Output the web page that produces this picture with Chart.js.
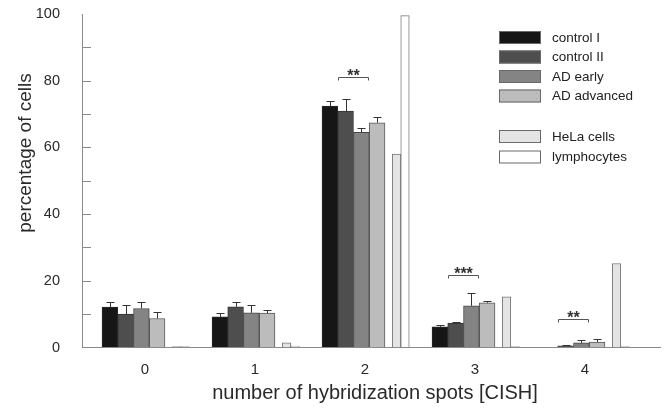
<!DOCTYPE html>
<html><head><meta charset="utf-8">
<script src="https://cdn.jsdelivr.net/npm/chart.js@4/dist/chart.umd.min.js"></script>
<style>html,body{margin:0;padding:0;background:#fff;}#wrap{width:665px;height:410px;}</style>
</head><body><div id="wrap"><canvas id="c" width="665" height="410"></canvas></div>
<script>
// ---- data ----
const categories = ['0', '1', '2', '3', '4'];
const controlI        = [12.1,  9.2, 72.4,  6.2, 0.0];
const controlIErr     = [ 1.4,  1.2,  1.5,  0.5, 0.0];
const controlII       = [10.0, 12.2, 70.9,  7.3, 0.5];
const controlIIErr    = [ 2.7,  1.5,  3.5,  0.4, 0.2];
const adEarly         = [11.7, 10.4, 64.5, 12.5, 1.4];
const adEarlyErr      = [ 1.9,  2.3,  1.4,  3.8, 0.7];
const adAdvanced      = [ 8.7, 10.3, 67.4, 13.4, 1.6];
const adAdvancedErr   = [ 2.0,  0.9,  1.6,  0.5, 0.8];
const helaCells       = [ 0.3,  1.4, 58.0, 15.2, 25.2];
const lymphocytes     = [ 0.3,  0.4, 99.5,  0.3, 0.3];
const seriesLabels = ['control I', 'control II', 'AD early', 'AD advanced', 'HeLa cells', 'lymphocytes'];
const yTickLabels = [0, 20, 40, 60, 80, 100];
const yTickMarks  = [10, 20, 30, 40, 50, 60, 70, 80, 90];
const sigCategories = [2, 3, 4];
const sigLabels     = ['**', '***', '**'];
const sigLevels     = [81, 21.6, 8.4];
const xTitle = 'number of hybridization spots [CISH]';
const yTitle = 'percentage of cells';

// ---- layout / style ----
const FONT = '"Liberation Sans", Arial, Helvetica, sans-serif';
const xMin = -0.5727, xMax = 4.6818;
const PLOT_W = 578;
const PPU = PLOT_W / (xMax - xMin);
const barOffsetPx = [-35.1, -19.4, -3.6, 12.1, 31.5, 40.0];
const barWidthPx  = [15.75, 15.75, 15.75, 15.75, 8.5, 8.5];
const fills   = ['#161616', '#4e4e4e', '#848484', '#bcbcbc', '#e4e4e4', '#ffffff'];
const borders = ['#2a2a2a', '#353535', '#474747', '#5a5a5a', '#7a7a7a', '#7a7a7a'];

const intTicks = s => { s.ticks = categories.map((c, i) => ({ value: i })); };
const pts = vals => categories.map((c, i) => ({ x: i, y: vals[i] }));
const seriesValues = [controlI, controlII, adEarly, adAdvanced, helaCells, lymphocytes];
const seriesErrors = [controlIErr, controlIIErr, adEarlyErr, adAdvancedErr, null, null];

const datasets = seriesLabels.map((label, k) => ({
  label, data: pts(seriesValues[k]), errors: seriesErrors[k],
  backgroundColor: fills[k], borderColor: borders[k], borderWidth: 1,
  xAxisID: 'b' + k, yAxisID: 'y', grouped: false, barThickness: barWidthPx[k]
}));

const scales = {
  x: {
    type: 'linear', position: 'bottom', min: xMin, max: xMax, offset: false,
    afterBuildTicks: intTicks,
    afterFit: s => { s.height = 62.5; },
    grid: { display: false },
    border: { display: true, color: '#8a8a8a', width: 1 },
    ticks: { callback: v => categories[v], font: { family: FONT, size: 15 }, color: '#2a2a2a', padding: 5, maxRotation: 0 }
  },
  y: {
    type: 'linear', min: 0, max: 100,
    afterBuildTicks: s => { s.ticks = yTickLabels.map(v => ({ value: v })); },
    afterFit: s => { s.width = 82; },
    grid: { display: true, drawOnChartArea: false, drawTicks: true, tickLength: 22, color: 'rgba(0,0,0,0)' },
    border: { display: true, color: '#8a8a8a', width: 1 },
    ticks: { font: { family: FONT, size: 14.5 }, color: '#2a2a2a', padding: 0 }
  }
};
barOffsetPx.forEach((off, k) => {
  scales['b' + k] = { type: 'linear', axis: 'x', position: 'bottom', display: false, offset: false,
    min: xMin - off / PPU, max: xMax - off / PPU, afterBuildTicks: intTicks };
});

const decor = {
  id: 'decor',
  afterDatasetsDraw(chart) {
    const ctx = chart.ctx, ys = chart.scales.y;
    ctx.save();
    // error bars
    ctx.strokeStyle = '#333'; ctx.lineWidth = 1;
    chart.data.datasets.forEach((d, di) => {
      if (!d.errors) return;
      chart.getDatasetMeta(di).data.forEach((bar, i) => {
        const e = d.errors[i]; if (!e) return;
        const yt = Math.round(ys.getPixelForValue(d.data[i].y + e)) + 0.5;
        const x = Math.round(bar.x) + 0.5;
        ctx.beginPath();
        ctx.moveTo(x, bar.y); ctx.lineTo(x, yt);
        ctx.moveTo(x - 4, yt); ctx.lineTo(x + 4, yt);
        ctx.stroke();
      });
    });
    // inner tick marks on y axis
    const left = chart.chartArea.left;
    ctx.strokeStyle = '#8a8a8a';
    yTickMarks.forEach(v => {
      const y = Math.round(ys.getPixelForValue(v)) + 0.5;
      ctx.beginPath(); ctx.moveTo(left, y); ctx.lineTo(left + 9, y); ctx.stroke();
    });
    // significance brackets
    const m1 = chart.getDatasetMeta(1), m2 = chart.getDatasetMeta(2);
    ctx.strokeStyle = '#555'; ctx.fillStyle = '#333';
    sigCategories.forEach((c, k) => {
      const b1 = m1.data[c], b2 = m2.data[c];
      const x1 = Math.round(b1.x - b1.width / 2) + 0.5, x2 = Math.round(b2.x + b2.width / 2) - 0.5;
      const y = Math.round(ys.getPixelForValue(sigLevels[k])) + 0.5;
      ctx.beginPath();
      ctx.moveTo(x1, y + 3); ctx.lineTo(x1, y); ctx.lineTo(x2, y); ctx.lineTo(x2, y + 3);
      ctx.stroke();
      ctx.font = 'bold 16px ' + FONT; ctx.textAlign = 'center'; ctx.textBaseline = 'middle';
      ctx.fillText(sigLabels[k], (x1 + x2) / 2, y - 1);
    });
    // legend
    const rows = [31, 50.5, 70, 89.5, 130, 150.5];
    ctx.font = '13.5px ' + FONT; ctx.textAlign = 'left'; ctx.textBaseline = 'middle';
    chart.data.datasets.forEach((d, i) => {
      const y = rows[i];
      ctx.fillStyle = d.backgroundColor; ctx.fillRect(499, y, 42, 13);
      ctx.strokeStyle = '#6a6a6a'; ctx.strokeRect(499.5, y + 0.5, 41, 12);
      ctx.fillStyle = '#222'; ctx.fillText(d.label, 552, y + 7);
    });
    // axis titles
    ctx.fillStyle = '#2a2a2a';
    ctx.font = '20px ' + FONT; ctx.textAlign = 'center'; ctx.textBaseline = 'middle';
    ctx.fillText(xTitle, 375, 393);
    ctx.translate(26, 153); ctx.rotate(-Math.PI / 2);
    ctx.font = '19px ' + FONT;
    ctx.fillText(yTitle, 0, 0);
    ctx.restore();
  }
};

new Chart(document.getElementById('c'), {
  type: 'bar',
  data: { datasets },
  options: {
    responsive: false, animation: false, devicePixelRatio: 1,
    layout: { padding: { top: 14, right: 5, left: 0, bottom: 0 } },
    plugins: { legend: { display: false }, tooltip: { enabled: false } },
    scales
  },
  plugins: [decor]
});
</script></body></html>
